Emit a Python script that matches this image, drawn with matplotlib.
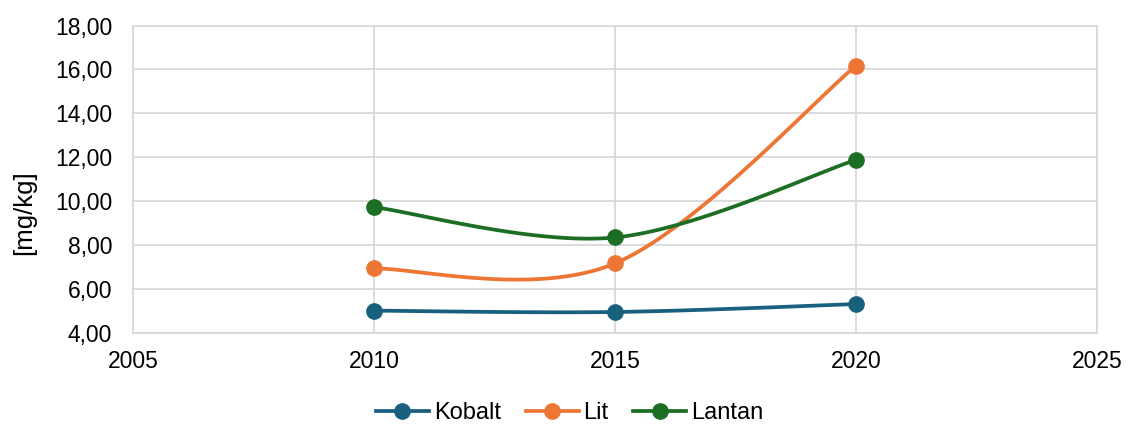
import numpy as np
import matplotlib.pyplot as plt
from matplotlib.ticker import FuncFormatter

plt.rcParams["font.family"] = ["Liberation Sans", "DejaVu Sans"]

years = [2010, 2015, 2020]
kobalt = [5.03, 4.97, 5.33]
lit = [6.95, 7.18, 16.17]
lantan = [9.74, 8.36, 11.89]

series = {
    "Kobalt": (kobalt, "#19607f"),
    "Lit": (lit, "#ed7634"),
    "Lantan": (lantan, "#1d6e25"),
}


def smooth(xs, ys, n=60):
    # Excel-style smoothed line: Catmull-Rom segments as cubic Bezier
    pts = np.column_stack([xs, ys]).astype(float)
    ext = np.vstack([pts[0], pts, pts[-1]])
    out = []
    t = np.linspace(0, 1, n)[:, None]
    for i in range(len(pts) - 1):
        p0, p1, p2, p3 = ext[i], ext[i + 1], ext[i + 2], ext[i + 3]
        c1 = p1 + (p2 - p0) / 6
        c2 = p2 - (p3 - p1) / 6
        seg = ((1 - t) ** 3) * p1 + 3 * ((1 - t) ** 2) * t * c1 \
            + 3 * (1 - t) * t ** 2 * c2 + t ** 3 * p2
        out.append(seg)
    out = np.vstack(out)
    return out[:, 0], out[:, 1]


fig = plt.figure(figsize=(11.28, 4.26), dpi=100)
ax = fig.add_axes([0.1179, 0.2176, 0.8546, 0.7225])

for name, (vals, col) in series.items():
    sx, sy = smooth(years, vals)
    ax.plot(sx, sy, color=col, linewidth=2.7, solid_capstyle="round")
    ax.plot(years, vals, "o", color=col, markersize=11)
    # legend proxy
    ax.plot([], [], color=col, linewidth=2.7, marker="o", markersize=11, label=name)

ax.set_xlim(2005, 2025)
ax.set_ylim(4, 18)
ax.set_xticks([2005, 2010, 2015, 2020, 2025])
ax.set_yticks(np.arange(4, 19, 2))
ax.yaxis.set_major_formatter(FuncFormatter(lambda v, p: f"{v:.2f}".replace(".", ",")))

ax.grid(True, color="#d9d9d9", linewidth=1.3)
ax.set_axisbelow(True)
for s in ax.spines.values():
    s.set_color("#d9d9d9")
    s.set_linewidth(1.3)
ax.tick_params(axis="both", length=0, labelsize=16.5, colors="black")
ax.tick_params(axis="x", pad=12)
ax.tick_params(axis="y", pad=15)

fig.text(0.021, 0.50, "[mg/kg]", rotation=90, ha="center", va="center", fontsize=18.5)

fig.legend(loc="center", bbox_to_anchor=(0.505, 0.031), ncol=3, frameon=False,
           fontsize=17, handlelength=2.25, handletextpad=0.2, columnspacing=1.05)

fig.savefig("out.png", dpi=100)
